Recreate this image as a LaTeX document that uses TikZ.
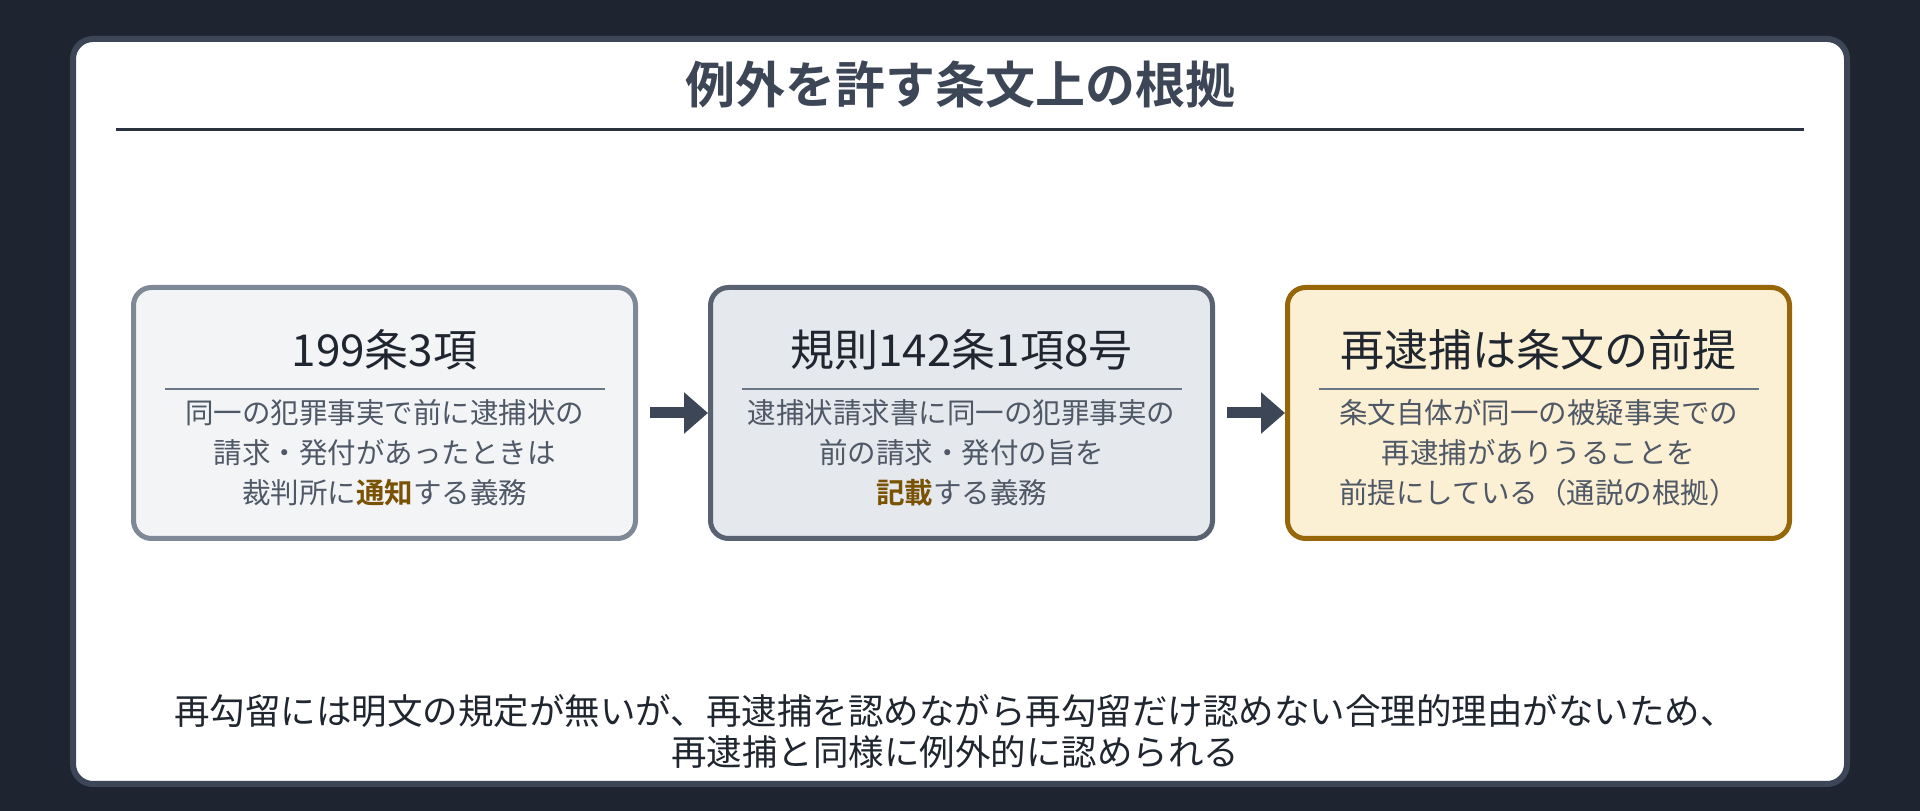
\documentclass[tikz,border=0pt]{standalone}
\usepackage{fontspec}
\setmainfont{Noto Sans CJK JP}[BoldFont={Noto Sans CJK JP Bold}]
\usetikzlibrary{positioning, arrows.meta}
\definecolor{bgdark}{HTML}{1E2530}
\definecolor{frame}{HTML}{3D4656}
\definecolor{rulec}{HTML}{2B3240}
\definecolor{fillA}{HTML}{F3F4F6}
\definecolor{lineA}{HTML}{7F8896}
\definecolor{fillB}{HTML}{E5E8ED}
\definecolor{lineB}{HTML}{596270}
\definecolor{fillC}{HTML}{FBEFD4}
\definecolor{lineC}{HTML}{966609}
\definecolor{sepc}{HTML}{6B7686}
\definecolor{headc}{HTML}{1F2630}
\definecolor{bodyc}{HTML}{4F5866}
\definecolor{hlc}{HTML}{7A5204}
\newcommand{\hl}[1]{\textbf{\textcolor{hlc}{#1}}}
\tikzset{
x=1pt, y=1pt, % one unit is one pixel of the reference
panel/.style={draw=frame, fill=white, line width=6pt, rounded corners=20pt}, % the white sheet
bigtitle/.style={font=\fontsize{50}{60}\selectfont\bfseries, text=frame}, % heading of the sheet
card/.style={line width=5pt, rounded corners=18pt, minimum width=502pt, minimum height=251pt}, % the three boxes
head/.style={font=\fontsize{44}{50}\selectfont, text=headc}, % heading inside a box
sep/.style={draw=sepc, line width=2.5pt}, % line under a box heading
body/.style={font=\fontsize{28.5}{40}\selectfont, text=bodyc, align=center}, % text inside a box
flow/.style={-{Triangle[length=24pt,width=40pt]}, line width=11pt, draw=frame}, % arrow between boxes
note/.style={font=\fontsize{35.5}{41}\selectfont, text=headc, align=center}, % conclusion at the bottom
}
\begin{document}
\begin{tikzpicture}
  \fill[bgdark] (0,0) rectangle (1920,811);
  \draw[panel] (73,27) rectangle (1847,772);
  \node[bigtitle] (title) at (960,726) {例外を許す条文上の根拠};
  \draw[rulec, line width=3pt] (116,681) -- (1804,681);
  \node[card, fill=fillA, draw=lineA] (c1) at (384.5,398) {};
  \node[card, fill=fillB, draw=lineB, right=70pt of c1] (c2) {};
  \node[card, fill=fillC, draw=lineC, right=70pt of c2] (c3) {};
  \node[head] (h1) at ([yshift=63pt]c1.center) {199条3項};
  \node[head] (h2) at ([yshift=63pt]c2.center) {規則142条1項8号};
  \node[head] (h3) at ([yshift=63pt]c3.center) {再逮捕は条文の前提};
  \draw[sep] ([xshift=-220pt,yshift=24pt]c1.center) -- ([xshift=220pt,yshift=24pt]c1.center);
  \draw[sep] ([xshift=-220pt,yshift=24pt]c2.center) -- ([xshift=220pt,yshift=24pt]c2.center);
  \draw[sep] ([xshift=-220pt,yshift=24pt]c3.center) -- ([xshift=220pt,yshift=24pt]c3.center);
  \node[body] (d1) at ([yshift=-40pt]c1.center) {同一の犯罪事実で前に逮捕状の\\請求・発付があったときは\\裁判所に\hl{通知}する義務};
  \node[body] (d2) at ([yshift=-40pt]c2.center) {逮捕状請求書に同一の犯罪事実の\\前の請求・発付の旨を\\\hl{記載}する義務};
  \node[body] (d3) at ([yshift=-40pt]c3.center) {条文自体が同一の被疑事実での\\再逮捕がありうることを\\前提にしている（通説の根拠）};
  \draw[flow] ([xshift=12pt]c1.east) -- (c2.west);
  \draw[flow] ([xshift=12pt]c2.east) -- (c3.west);
  \node[note] (concl) at (955,80) {再勾留には明文の規定が無いが、再逮捕を認めながら再勾留だけ認めない合理的理由がないため、\\再逮捕と同様に例外的に認められる};
\end{tikzpicture}
\end{document}
